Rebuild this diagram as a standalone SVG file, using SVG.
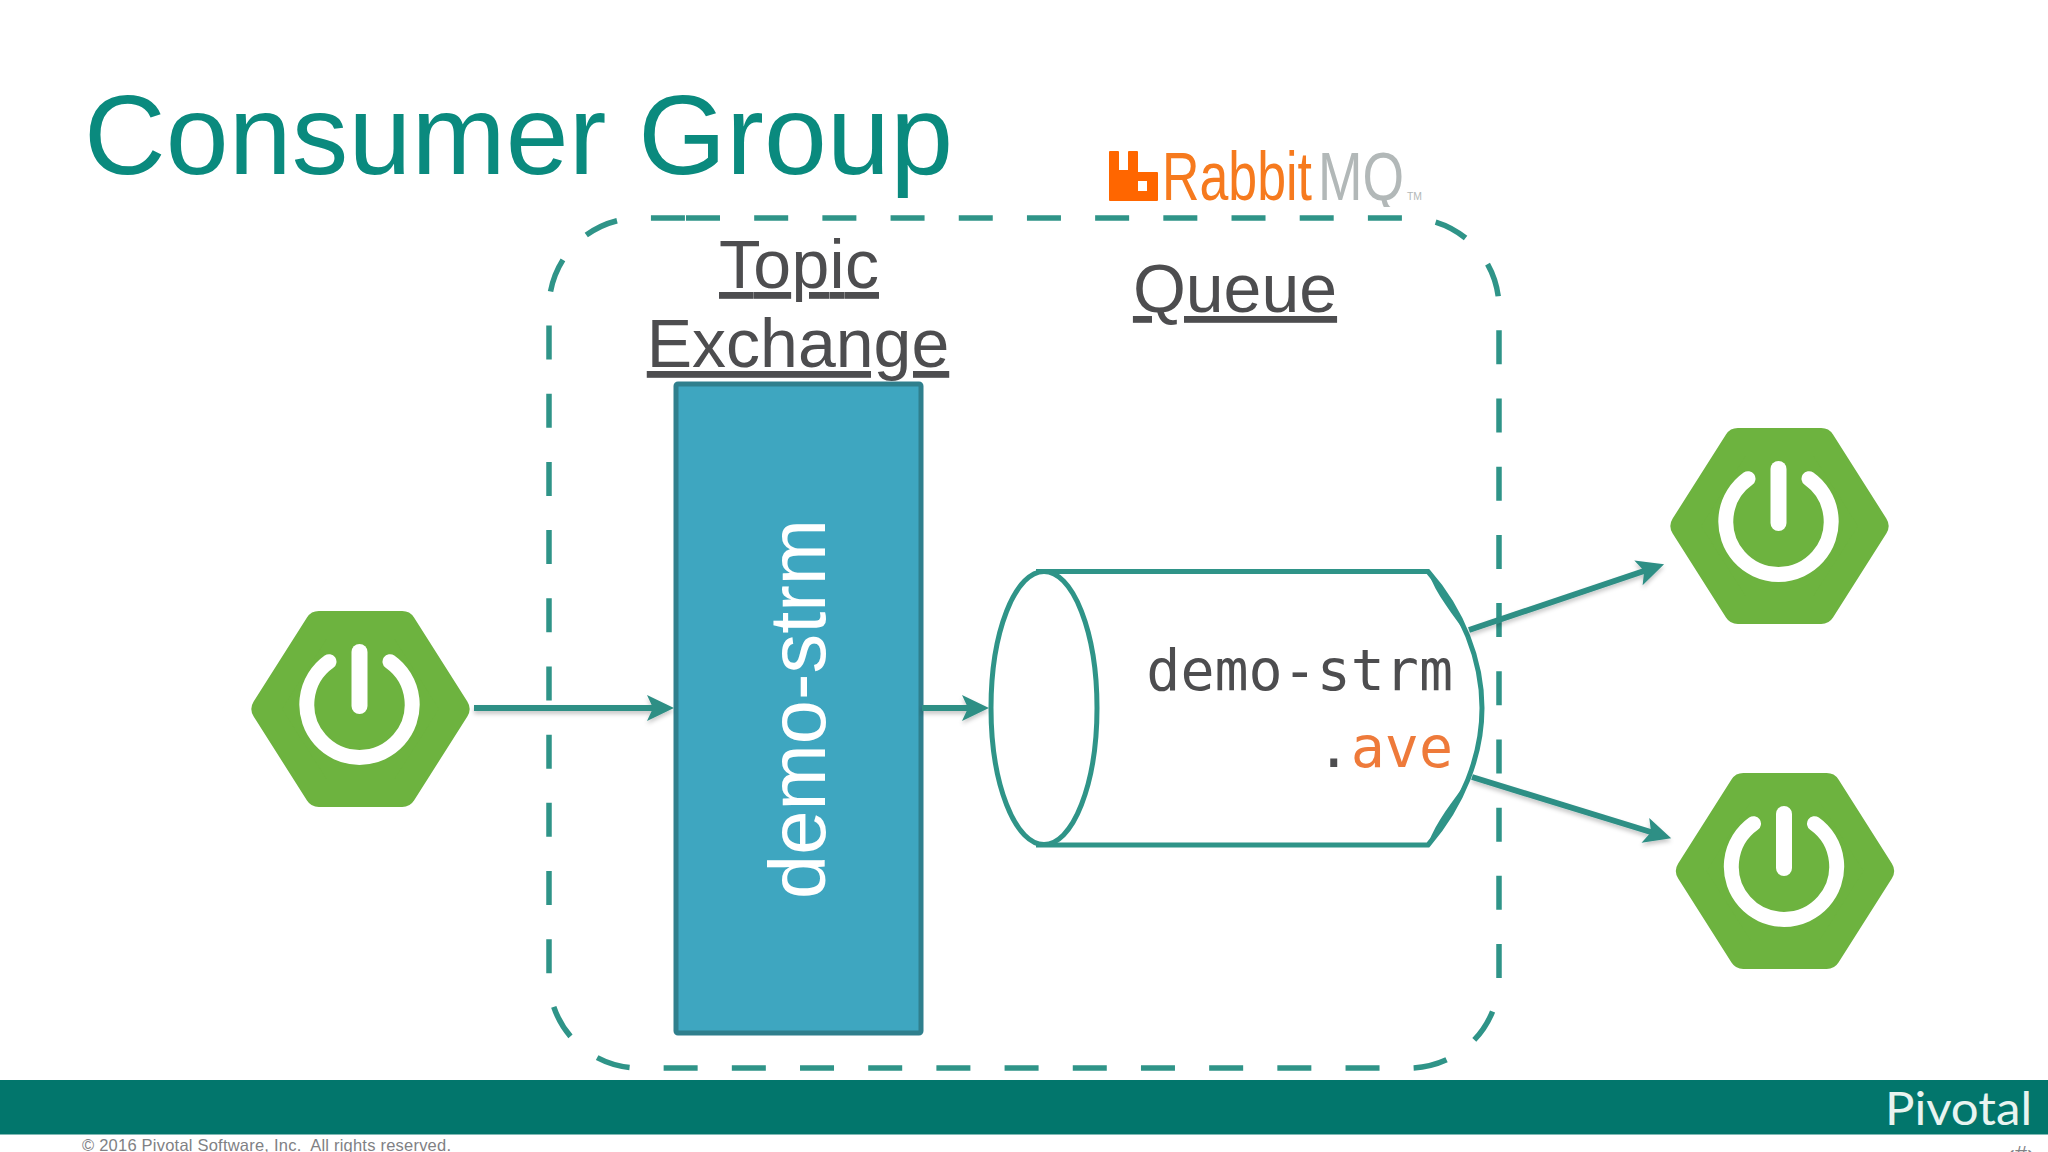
<svg xmlns="http://www.w3.org/2000/svg" width="2048" height="1152" viewBox="0 0 2048 1152">
<style>
.sans{font-family:"Liberation Sans",Arial,sans-serif}
.mono{font-family:"DejaVu Sans Mono",monospace;font-size:56.600px;text-anchor:end}
.lbl{font-size:68px;fill:#4d4d4f;text-anchor:middle;text-decoration:underline}
.conn{fill:none;stroke:#2f8f85;stroke-width:6;marker-end:url(#arrow)}
.hex{fill:#6db33f;stroke:#6db33f;stroke-width:28;stroke-linejoin:round}
.pw{fill:none;stroke:#fff;stroke-linecap:round}
</style>
<defs>
<marker id="arrow" markerUnits="userSpaceOnUse" markerWidth="30" markerHeight="30" refX="10" refY="15" orient="auto" viewBox="0 0 30 30">
<path d="M1,2 L28,15 L1,28 L7,15 Z" fill="#2f8f85"/>
</marker>
<filter id="sh" x="-10%" y="-50%" width="120%" height="200%"><feDropShadow dx="0" dy="3" stdDeviation="2" flood-color="#000" flood-opacity=".22"/></filter>
<clipPath id="logoclip"><rect x="1100" y="140" width="330" height="67"/></clipPath>
<g id="spring">
<path class="hex" d="M265.500,709 L318.800,625 H402.200 L455.500,709 L402.200,793 H318.800 Z"/>
<path class="pw" stroke-width="15" d="M329,661.7 A52.7,52.7 0 1 0 390,661.7"/>
<path class="pw" stroke-width="16" d="M359.5,652 V706"/>
</g>
</defs>
<rect width="2048" height="1152" fill="#fff"/>
<text id="title" class="sans" x="84" y="174" font-size="113" fill="#0a8a7e" textLength="869">Consumer Group</text>
<g id="rabbitmq">
<path fill-rule="evenodd" fill="#f60" d="M1109,152 Q1109,151 1110,151 H1118 Q1119,151 1119,152 V170 H1128 V152 Q1128,151 1129,151 H1137 Q1138,151 1138,152 V172 H1157 Q1158,172 1158,173 V200 Q1158,201 1157,201 H1110 Q1109,201 1109,200 Z M1138,181 V191 H1147 V181 Z"/>
<text x="1162" y="200" class="sans" font-size="68" fill="#f67a1e" textLength="150" lengthAdjust="spacingAndGlyphs">Rabbit</text>
<g clip-path="url(#logoclip)"><text x="1318" y="200" class="sans" font-size="68" fill="#b2b8b8" textLength="86" lengthAdjust="spacingAndGlyphs">MQ</text></g>
<text x="1407" y="200" class="sans" font-size="10" fill="#b2b8b8" textLength="15" lengthAdjust="spacingAndGlyphs">TM</text>
</g>
<path id="boundary" fill="none" stroke="#2f9488" stroke-width="5.500" stroke-dasharray="34 34.190" d="M686,218 H1409 A90,90 0 0 1 1499,308 V978 A90,90 0 0 1 1409,1068 H639 A90,90 0 0 1 549,978 V308 A90,90 0 0 1 639,218 H686"/>
<g id="topic-label" class="sans">
<text class="lbl" x="799" y="288" textLength="160">Topic</text>
<text class="lbl" x="798" y="367">Exchange</text>
</g>
<text id="queue-label" class="sans lbl" x="1235" y="312">Queue</text>
<g id="exchange">
<rect x="676" y="384" width="245" height="649" rx="2" fill="#3ea6c0" stroke="#2f7f8d" stroke-width="5"/>
<text class="sans" transform="translate(825,709) rotate(-90)" text-anchor="middle" font-size="79.500" fill="#fff">demo-strm</text>
</g>
<g id="queue">
<path fill="#fff" stroke="#2f9488" stroke-width="5" d="M1036,571.5 H1428 C1462,610 1482,660 1482,708 C1482,756 1462,806 1428,845 H1036"/>
<path fill="#2f9488" d="M1428,571.5 C1445,590.75 1458.5,612.9 1467.75,636.2 C1453,614 1436,595 1428,571.5 Z M1428,844.5 C1445,825.25 1458.5,803.1 1467.75,779.8 C1453,802 1436,821 1428,844.5 Z"/>
<ellipse cx="1044" cy="708" rx="53" ry="136.5" fill="#fff" stroke="#2f9488" stroke-width="5"/>
<text class="mono" x="1453" y="690" fill="#4d4d4f">demo-strm</text>
<text class="mono" x="1453" y="767" fill="#ee7a3a"><tspan fill="#4d4d4f">.</tspan>ave</text>
</g>
<g id="connectors" filter="url(#sh)">
<path class="conn" d="M474,708 H656"/>
<path class="conn" d="M922,708 H971"/>
<path class="conn" d="M1469,630 L1647,570"/>
<path class="conn" d="M1472,777 L1654,833"/>
</g>
<use id="producer" href="#spring"/>
<use id="consumer-1" href="#spring" transform="translate(1419,-183)"/>
<use id="consumer-2" href="#spring" transform="translate(1424.5,162)"/>
<g id="footer">
<rect y="1080" width="2048" height="54.500" fill="#02766c"/>
<text x="1885" y="1125" font-family="Lato,sans-serif" font-size="46" fill="#e8f4f0" textLength="147" lengthAdjust="spacingAndGlyphs">Pivotal</text>
<text class="sans" x="82" y="1151" font-size="16.500" fill="#808184" xml:space="preserve" textLength="369">© 2016 Pivotal Software, Inc.  All rights reserved.</text>
<text class="sans" x="2021" y="1161" font-size="22" fill="#808184" text-anchor="middle">‹#›</text>
</g>
</svg>
